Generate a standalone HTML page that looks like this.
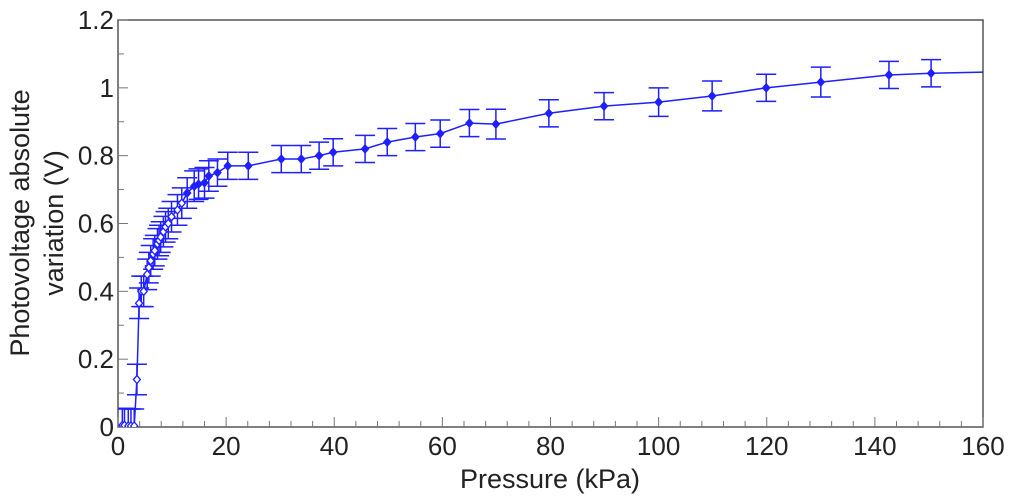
<!DOCTYPE html>
<html><head><meta charset="utf-8"><style>
body{margin:0;background:#fff;}
svg text{font-family:"Liberation Sans",Arial,sans-serif;fill:#222;}
</style></head><body>
<svg id="chart" width="1024" height="499" viewBox="0 0 1024 499" xmlns="http://www.w3.org/2000/svg">
<defs><clipPath id="plotclip"><rect x="118" y="20" width="865" height="407"/></clipPath></defs>
<g id="axes"></g>
<g id="series" clip-path="url(#plotclip)"></g>
<text x="550" y="488" font-size="27" text-anchor="middle">Pressure (kPa)</text>
<text transform="translate(32,223) rotate(-90)" font-size="27" text-anchor="middle"><tspan x="0" dy="-3">Photovoltage absolute</tspan><tspan x="0" dy="34">variation (V)</tspan></text>
</svg>
<script>
const pressure=[0.8,1.2,1.9,2.4,3.0,3.5,3.9,4.3,4.75,5.4,5.7,6.05,6.5,6.8,7.3,7.6,7.9,8.4,8.8,9.3,9.9,11,11.8,12.8,14.1,14.9,16,16.8,18.4,20.3,24.1,30.2,33.9,37.2,39.8,45.7,49.8,55,59.6,65,69.9,79.7,89.9,100,109.9,119.9,130,142.6,150.4,170];
const voltage=[0.005,0.005,0.003,0.003,0.003,0.14,0.365,0.40,0.40,0.45,0.47,0.49,0.51,0.52,0.54,0.55,0.56,0.576,0.59,0.60,0.62,0.64,0.66,0.69,0.71,0.716,0.72,0.74,0.75,0.77,0.77,0.79,0.79,0.80,0.81,0.82,0.84,0.855,0.865,0.896,0.893,0.925,0.946,0.958,0.976,1.0,1.017,1.038,1.043,1.05];
const errors=[0.05,0.05,0.05,0.05,0.05,0.045,0.045,0.045,0.045,0.045,0.045,0.045,0.045,0.045,0.045,0.045,0.045,0.045,0.045,0.045,0.045,0.045,0.045,0.045,0.045,0.045,0.045,0.045,0.04,0.04,0.04,0.04,0.04,0.04,0.04,0.04,0.04,0.04,0.04,0.04,0.044,0.04,0.04,0.042,0.044,0.04,0.044,0.04,0.04,0.04];
const xTicks=[0,20,40,60,80,100,120,140,160];
const yTicks=[0,0.2,0.4,0.6,0.8,1,1.2];
const yTickLabels=["0","0.2","0.4","0.6","0.8","1","1.2"];
const X0=118,X1=983,Y0=427,Y1=20;
const xs=v=>X0+(v/160)*(X1-X0);
const ys=v=>Y0-(v/1.2)*(Y0-Y1);
const NS="http://www.w3.org/2000/svg";
function mk(tag,attrs,parent){const e=document.createElementNS(NS,tag);for(const k in attrs)e.setAttribute(k,attrs[k]);parent.appendChild(e);return e;}
const axes=document.getElementById('axes'),series=document.getElementById('series');
const frame=mk('rect',{x:X0,y:Y1,width:X1-X0,height:Y0-Y1,fill:'none',stroke:'#555','stroke-width':1.5},axes);


for(let v=0;v<=160;v+=4){const major=v%20===0;const t=mk('line',{x1:xs(v),x2:xs(v),y1:Y0,y2:Y0-(major?10:6),stroke:'#777','stroke-width':1},axes);

}
for(let i=0;i<=12;i++){const v=i*0.1;const major=i%2===0;const t=mk('line',{x1:X0,x2:X0+(major?10:6),y1:ys(v),y2:ys(v),stroke:'#777','stroke-width':1},axes);

}
xTicks.forEach(v=>{const t=mk('text',{x:xs(v),y:455,'font-size':26,'text-anchor':'middle'},axes);t.textContent=v;

});
yTicks.forEach((v,i)=>{const t=mk('text',{x:X0-4,y:ys(v)+9,'font-size':26,'text-anchor':'end'},axes);t.textContent=yTickLabels[i];

});
const col='#1f1fff';
pressure.forEach((p,i)=>{const x=xs(p),yt=ys(voltage[i]+errors[i]),yb=ys(voltage[i]-errors[i]);
const g=mk('path',{d:`M${x},${yt}V${yb}M${x-10},${yt}H${x+10}M${x-10},${yb}H${x+10}`,stroke:col,'stroke-width':1.5,fill:'none'},series);

});
const line=mk('polyline',{points:pressure.map((p,i)=>xs(p)+','+ys(voltage[i])).join(' '),fill:'none',stroke:col,'stroke-width':1.5},series);


pressure.forEach((p,i)=>{const x=xs(p),y=ys(voltage[i]);
const m=mk('path',{d:`M${x},${y-4}L${x+3.5},${y}L${x},${y+4}L${x-3.5},${y}Z`,fill:p<12?'#fff':col,stroke:col,'stroke-width':1.3},series);

});
</script>
</body></html>
